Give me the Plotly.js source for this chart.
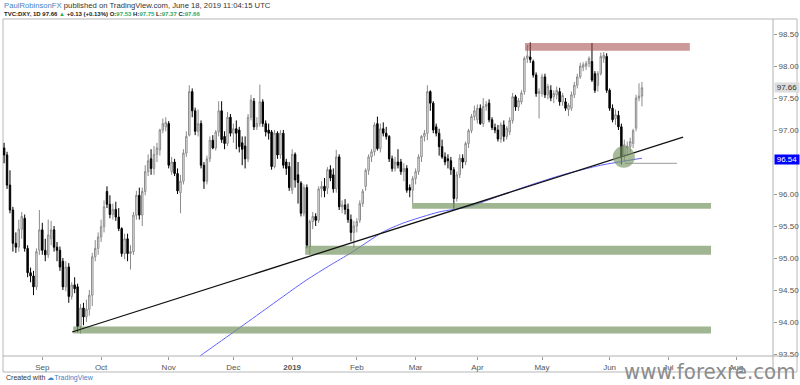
<!DOCTYPE html>
<html>
<head>
<meta charset="utf-8">
<script src="https://cdn.plot.ly/plotly-3.0.1.min.js"></script>
<style>html,body{margin:0;padding:0;background:#fff;}#chart{width:800px;height:385px;}</style>
</head>
<body>
<div id="chart"></div>
<script>
// ---- DATA (TVC:DXY daily) ----
const firstDay = '2018-08-15';
const barCount = 218;
const holidays = ['2018-12-25', '2019-01-01'];

const open = [
96.72,96.61,96.14,95.75,95.23,95.17,95.45,95.62,95.15,94.77,
94.72,94.55,95.12,95.44,95.12,95.05,95.30,95.44,95.17,95.12,
94.95,94.55,94.86,94.40,94.58,94.55,93.93,94.22,94.08,94.20,
94.42,95.02,95.15,95.33,95.49,96.04,95.84,95.68,95.76,95.64,
95.46,95.07,95.30,95.07,95.10,95.67,95.98,95.67,96.04,96.35,
96.55,96.40,96.62,96.69,97.00,97.05,97.10,96.35,96.50,96.32,
96.02,96.20,96.64,96.92,97.60,97.30,96.98,97.10,96.45,96.20,
96.55,96.84,96.72,96.97,97.30,96.90,96.79,97.20,96.95,97.02,
97.00,96.80,96.75,96.55,97.20,97.45,97.05,97.10,97.44,97.10,
97.00,96.97,96.43,96.95,96.61,96.95,96.50,96.43,96.06,96.62,
96.30,96.17,95.70,96.10,95.18,95.57,95.65,95.59,96.08,96.12,
96.09,96.38,96.30,96.08,96.58,95.80,95.83,95.76,95.60,95.40,
95.50,95.59,95.85,96.12,96.37,96.58,96.66,97.10,96.71,97.02,
96.95,96.90,96.55,96.40,96.50,96.50,96.35,96.40,96.10,96.06,
96.24,96.35,96.58,96.90,96.95,97.60,97.42,97.05,96.95,96.74,
96.58,96.55,96.52,96.38,95.93,96.30,96.56,96.50,96.79,96.99,
97.21,97.16,97.34,97.10,97.37,97.42,97.16,97.04,97.00,96.86,
97.08,96.90,96.97,97.15,97.52,97.36,97.44,97.60,98.12,98.14,
98.07,97.86,97.57,97.57,97.83,97.55,97.62,97.52,97.55,97.60,
97.44,97.44,97.32,97.34,97.55,97.70,97.83,97.98,98.00,98.04,
98.07,97.88,97.70,97.88,98.12,98.15,97.62,97.34,97.18,97.23,
97.05,96.61,96.72,96.74,96.79,97.03,97.50,97.53];

const high = [
96.80,96.66,96.37,95.80,95.40,95.60,95.72,95.68,95.20,94.85,
94.80,95.15,95.75,95.55,95.30,95.60,95.58,95.50,95.25,95.18,
95.00,94.95,94.92,94.62,94.70,94.60,94.28,94.30,94.35,94.50,
95.08,95.28,95.40,95.60,95.90,96.12,95.98,95.85,95.88,95.78,
95.48,95.38,95.38,95.20,95.72,96.05,96.10,96.10,96.45,96.62,
96.70,96.75,96.80,97.02,97.18,97.20,97.14,96.58,96.55,96.40,
96.30,96.70,96.98,97.70,97.65,97.35,97.32,97.15,96.50,96.60,
96.90,96.92,97.00,97.45,97.45,96.98,97.28,97.25,97.10,97.15,
97.05,96.90,96.90,97.25,97.55,97.50,97.20,97.71,97.48,97.15,
97.10,97.00,97.00,96.98,97.00,97.00,96.55,96.50,96.70,96.65,
96.50,96.20,96.15,96.15,95.60,95.72,95.70,96.12,96.20,96.25,
96.42,96.45,96.40,96.69,96.62,95.90,95.92,95.85,95.68,95.58,
95.62,95.90,96.08,96.40,96.62,96.70,97.12,97.21,97.10,97.12,
97.05,96.92,96.60,96.58,96.70,96.55,96.48,96.45,96.15,96.28,
96.40,96.62,96.92,97.00,97.70,97.62,97.45,97.10,97.02,96.85,
96.65,96.62,96.58,96.42,96.35,96.62,96.62,96.82,97.02,97.25,
97.38,97.40,97.40,97.50,97.45,97.48,97.20,97.10,97.08,97.12,
97.15,97.06,97.20,97.58,97.55,97.50,97.62,98.15,98.33,98.37,
98.10,97.90,97.65,97.88,97.88,97.72,97.70,97.62,97.68,97.66,
97.58,97.50,97.42,97.60,97.75,97.88,98.05,98.06,98.08,98.15,
98.36,97.92,97.92,98.21,98.22,98.20,97.65,97.40,97.32,97.30,
97.10,96.85,96.82,96.88,97.02,97.55,97.73,97.75];

const low = [
96.48,96.08,95.70,95.10,95.08,95.10,95.30,95.10,94.70,94.62,
94.42,94.50,95.05,95.05,94.95,95.00,95.20,95.10,94.95,94.80,
94.50,94.48,94.30,94.35,94.45,93.84,93.82,93.95,94.00,94.10,
94.25,94.95,95.05,95.25,95.40,95.78,95.62,95.60,95.58,95.42,
95.02,94.98,94.95,94.82,95.05,95.60,95.60,95.50,95.98,96.28,
96.30,96.30,96.50,96.60,96.95,96.98,96.40,96.30,96.28,96.00,
95.70,96.15,96.58,96.90,97.20,96.92,96.90,96.40,96.08,96.15,
96.50,96.70,96.68,96.90,96.80,96.70,96.75,96.90,96.80,96.70,
96.65,96.45,96.40,96.50,97.15,97.00,97.00,97.05,97.05,96.90,
96.85,96.38,96.40,96.55,96.55,96.40,96.30,96.05,96.00,96.10,
95.85,95.65,95.65,95.15,95.05,95.45,95.50,95.55,95.95,95.95,
96.00,96.20,96.02,96.02,95.75,95.70,95.68,95.55,95.26,95.16,
95.40,95.55,95.80,96.05,96.30,96.50,96.60,96.68,96.65,96.90,
96.85,96.50,96.35,96.35,96.40,96.30,96.20,96.02,95.95,95.86,
96.15,96.30,96.50,96.82,96.84,97.30,96.95,96.90,96.60,96.55,
96.45,96.40,96.30,95.77,95.88,96.25,96.40,96.45,96.72,96.95,
97.15,97.10,97.08,97.05,97.30,97.12,97.00,96.95,96.82,96.80,
96.82,96.85,96.92,97.10,97.30,97.30,97.40,97.55,98.05,98.05,
97.82,97.52,97.18,97.52,97.50,97.48,97.45,97.42,97.48,97.38,
97.38,97.30,97.22,97.30,97.50,97.65,97.80,97.92,97.94,97.98,
97.75,97.58,97.60,97.85,98.05,97.58,97.30,97.12,97.08,97.00,
96.46,96.50,96.60,96.65,96.72,96.98,97.45,97.37];

const close = [
96.61,96.14,95.75,95.23,95.17,95.45,95.65,95.15,94.77,94.72,
94.55,95.10,95.44,95.12,95.05,95.36,95.44,95.17,95.12,94.86,
94.55,94.86,94.40,94.58,94.52,93.93,94.22,94.08,94.20,94.42,
95.02,95.15,95.33,95.49,95.80,95.84,95.68,95.76,95.64,95.46,
95.07,95.30,95.07,95.10,95.67,95.98,95.67,96.04,96.35,96.52,
96.40,96.62,96.72,97.00,97.10,97.12,96.45,96.50,96.32,96.05,
96.20,96.64,96.90,97.60,97.30,96.98,97.10,96.45,96.20,96.55,
96.84,96.72,96.97,97.30,96.85,96.79,97.20,96.95,97.02,96.95,
96.74,96.70,96.55,97.20,97.47,97.05,97.10,97.44,97.10,96.97,
96.95,96.43,96.95,96.61,96.95,96.45,96.40,96.10,96.62,96.22,
96.18,95.70,96.10,95.20,95.57,95.65,95.59,96.08,96.12,96.05,
96.38,96.25,96.08,96.58,95.80,95.83,95.76,95.60,95.40,95.50,
95.57,95.85,96.04,96.37,96.58,96.66,97.08,96.71,97.02,96.95,
96.90,96.55,96.40,96.50,96.45,96.35,96.40,96.06,96.06,96.24,
96.35,96.58,96.90,96.95,97.60,97.42,97.00,96.95,96.74,96.58,
96.50,96.52,96.38,95.93,96.30,96.56,96.50,96.79,96.99,97.21,
97.30,97.34,97.10,97.37,97.40,97.16,97.04,97.00,96.86,97.08,
96.90,97.03,97.15,97.52,97.36,97.46,97.58,98.12,98.16,98.10,
97.86,97.57,97.60,97.83,97.55,97.68,97.50,97.57,97.62,97.44,
97.54,97.34,97.39,97.55,97.70,97.83,98.00,98.02,98.04,98.12,
97.78,97.62,97.88,98.15,98.17,97.62,97.34,97.16,97.24,97.05,
96.58,96.77,96.75,96.82,96.99,97.50,97.53,97.66];

// moving average (blue line)
const maDates = ['2018-11-13','2018-11-16','2018-12-03','2018-12-17','2019-01-02','2019-01-09','2019-01-21','2019-01-30','2019-02-14','2019-02-25','2019-03-13','2019-03-27','2019-04-11','2019-04-25','2019-05-10','2019-05-29','2019-06-18'];
const maValues = [93.37,93.48,93.84,94.17,94.50,94.66,94.89,95.08,95.41,95.55,95.72,95.80,95.98,96.14,96.30,96.45,96.56];

// axis ticks (96.50 is hidden behind the moving-average price tag, as in the original)
const monthTicks = ['2018-09-03','2018-10-01','2018-11-01','2018-12-03','2019-01-02','2019-02-01','2019-03-01','2019-04-01','2019-05-01','2019-06-03','2019-07-01','2019-08-01'];
const monthLabels = ['Sep','Oct','Nov','Dec','<b>2019</b>','Feb','Mar','Apr','May','Jun','Jul','Aug'];
const priceTicks = [93.5,94.0,94.5,95.0,95.5,96.0,97.0,97.5,98.0,98.5];

// drawn zones / lines (price levels & dates)
const resistanceZone = {from:'2019-04-23 05:00', to:'2019-07-10 07:00', lo:98.24, hi:98.36};
const supportZones = [
  {from:'2019-02-27 19:00', to:'2019-07-19 12:00', lo:95.77, hi:95.86},
  {from:'2019-01-08 10:00', to:'2019-07-19 12:00', lo:95.05, hi:95.19},
  {from:'2018-09-17 12:00', to:'2019-07-19 12:00', lo:93.82, hi:93.93}
];
const trendLine = {from:'2018-09-17 03:00', to:'2019-07-08', p0:93.844, p1:96.89};
const lowMarker = {from:'2019-06-10 05:00', to:'2019-07-03 22:00', level:96.48};
const circleZone = {from:'2019-06-04 02:00', to:'2019-06-13 14:00', lo:96.41, hi:96.75};
const lastPrice = 97.66, maLast = 96.54;

// ---- build trading calendar ----
function tradingDays(start, n, skip) {
  const out = [];
  const d = new Date(start + 'T00:00:00Z');
  while (out.length < n) {
    const wd = d.getUTCDay();
    const s = d.toISOString().slice(0, 10);
    if (wd !== 0 && wd !== 6 && !skip.includes(s)) out.push(s);
    d.setUTCDate(d.getUTCDate() + 1);
  }
  return out;
}
const dates = tradingDays(firstDay, barCount, holidays);

const FONT = 'Liberation Sans, Arial, sans-serif';
const green = 'rgba(120,150,100,0.7)';

const candles = {
  type: 'candlestick', x: dates, open: open, high: high, low: low, close: close,
  increasing: {line: {color: '#8a8a8a', width: 1}, fillcolor: '#ffffff'},
  decreasing: {line: {color: '#000000', width: 1}, fillcolor: '#000000'},
  whiskerwidth: 0, hoverinfo: 'skip', showlegend: false
};
const ma = {
  type: 'scatter', mode: 'lines', x: maDates, y: maValues,
  line: {color: 'rgb(95,95,255)', width: 1, shape: 'spline', smoothing: 0.6},
  hoverinfo: 'skip', showlegend: false
};

const shapes = [];
// frame
shapes.push({type:'rect', xref:'paper', yref:'paper', x0:0, x1:1.0312, y0:-0.0476, y1:1.003, line:{color:'#b8b8b8', width:1}, layer:'below'});
shapes.push({type:'line', xref:'paper', yref:'paper', x0:0, x1:1.0312, y0:0, y1:0, line:{color:'#b0b0b0', width:1}});
shapes.push({type:'line', xref:'paper', yref:'paper', x0:1, x1:1, y0:-0.0476, y1:1.003, line:{color:'#b0b0b0', width:1}});
// zones
shapes.push({type:'rect', xref:'x', yref:'y', x0:resistanceZone.from, x1:resistanceZone.to, y0:resistanceZone.lo, y1:resistanceZone.hi, fillcolor:'rgba(160,70,70,0.55)', line:{width:0}, layer:'above'});
supportZones.forEach(z => shapes.push({type:'rect', xref:'x', yref:'y', x0:z.from, x1:z.to, y0:z.lo, y1:z.hi, fillcolor:green, line:{width:0}, layer:'above'}));
shapes.push({type:'line', xref:'x', yref:'y', x0:trendLine.from, x1:trendLine.to, y0:trendLine.p0, y1:trendLine.p1, line:{color:'#111', width:1.3}, layer:'above'});
shapes.push({type:'line', xref:'x', yref:'y', x0:lowMarker.from, x1:lowMarker.to, y0:lowMarker.level, y1:lowMarker.level, line:{color:'#999', width:1}, layer:'above'});
shapes.push({type:'circle', xref:'x', yref:'y', x0:circleZone.from, x1:circleZone.to, y0:circleZone.lo, y1:circleZone.hi, fillcolor:'rgba(120,150,100,0.65)', line:{width:0}, layer:'above'});

const upGreen = '#2fa862';
const annotations = [
  {xref:'paper', yref:'paper', x:0, y:1, xanchor:'left', yanchor:'middle', xshift:-1, yshift:15, showarrow:false,
   text:'<span style="color:#3d85c6">PaulRobinsonFX</span> published on TradingView.com, June 18, 2019 11:04:15 UTC',
   font:{family:FONT, size:7.7, color:'#333'}},
  {xref:'paper', yref:'paper', x:0, y:1, xanchor:'left', yanchor:'middle', xshift:-1, yshift:6, showarrow:false,
   text:'<b>TVC:DXY, 1D 97.66 <span style="color:'+upGreen+'">▲</span> +0.13 (+0.13%) O:<span style="color:'+upGreen+'">97.53</span> H:<span style="color:'+upGreen+'">97.75</span> L:<span style="color:'+upGreen+'">97.37</span> C:<span style="color:'+upGreen+'">97.66</span></b>',
   font:{family:FONT, size:6, color:'#222'}},
  {xref:'paper', yref:'y', x:1, y:lastPrice, xanchor:'left', yanchor:'middle', xshift:1, showarrow:false,
   text:lastPrice.toFixed(2), bgcolor:'#dcdcdc', width:24, height:9, borderpad:0, font:{family:FONT, size:8, color:'#333'}},
  {xref:'paper', yref:'y', x:1, y:maLast, xanchor:'left', yanchor:'middle', xshift:1, showarrow:false,
   text:maLast.toFixed(2), bgcolor:'#0000ff', width:24, height:9, borderpad:0, font:{family:FONT, size:8, color:'#ffffff'}},
  {xref:'paper', yref:'paper', x:0, y:0, xanchor:'left', yanchor:'middle', xshift:1, yshift:-22, showarrow:false,
   text:'Created with <span style="color:#3d85c6">☁TradingView</span>', font:{family:FONT, size:7, color:'#333'}},
  {xref:'paper', yref:'paper', x:0.917, y:0, xanchor:'center', yanchor:'bottom', yshift:-29, showarrow:false, borderpad:0,
   text:'www.forexre.com', font:{family:'Liberation Sans Narrow, DejaVu Sans Condensed, Arial Narrow, sans-serif', size:22, color:'#8c8c8c'}}
];

const layout = {
  width: 800, height: 385,
  margin: {l: 3, r: 27, t: 20, b: 29, pad: 0},
  paper_bgcolor: '#ffffff', plot_bgcolor: '#ffffff',
  showlegend: false,
  xaxis: {
    type: 'date', range: ['2018-08-14 15:00', '2019-08-19 14:00'],
    rangebreaks: [{bounds: ['sat', 'mon']}, {values: holidays}],
    rangeslider: {visible: false},
    tickmode: 'array', tickvals: monthTicks, ticktext: monthLabels,
    ticks: 'outside', ticklen: 3, tickcolor: '#999',
    tickfont: {family: FONT, size: 8, color: '#555'},
    showgrid: false, zeroline: false, showline: false, fixedrange: true, automargin: false
  },
  yaxis: {
    side: 'right', range: [93.469, 98.719],
    tickmode: 'array', tickvals: priceTicks, tickformat: '.2f',
    ticks: 'outside', ticklen: 3, tickcolor: '#999',
    tickfont: {family: FONT, size: 8, color: '#555'},
    showgrid: false, zeroline: false, showline: false, fixedrange: true, automargin: false
  },
  shapes: shapes,
  annotations: annotations
};

Plotly.newPlot('chart', [candles, ma], layout, {staticPlot: true, displayModeBar: false});
</script>
</body>
</html>
